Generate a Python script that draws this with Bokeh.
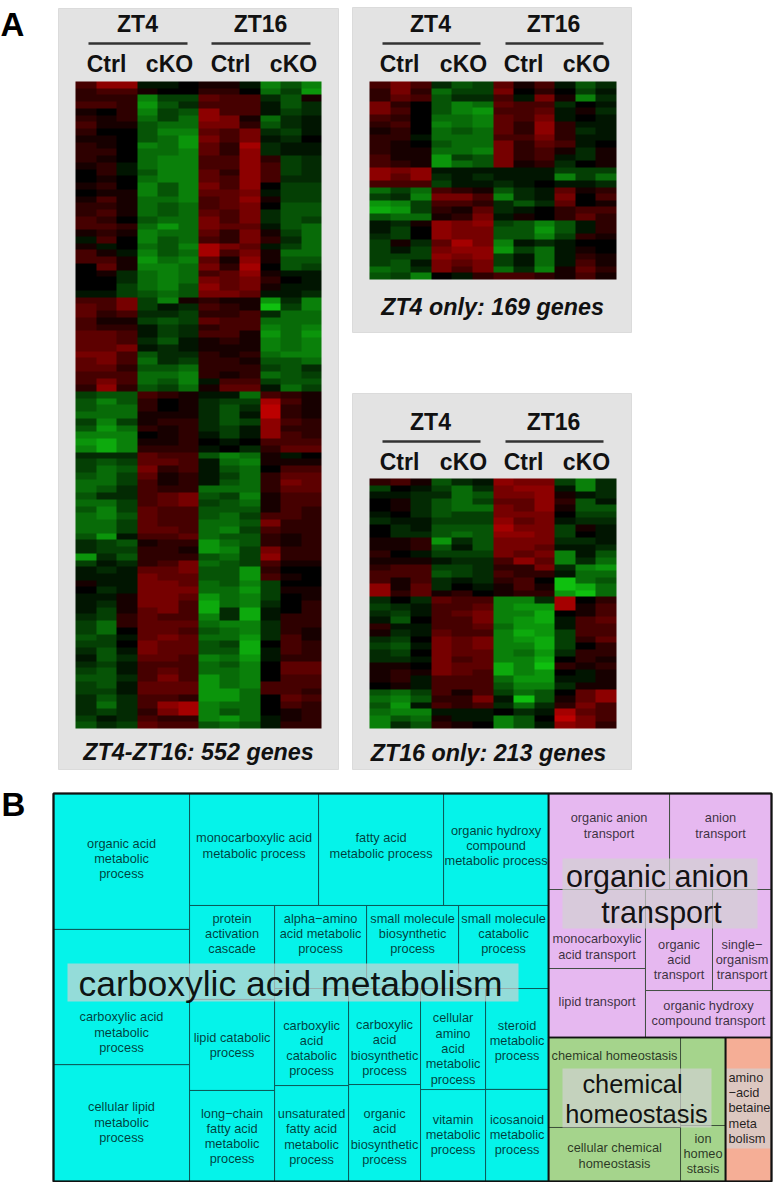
from bokeh.plotting import figure
from bokeh.models import Range1d, LinearColorMapper
from bokeh.embed import file_html
from bokeh.resources import INLINE
from bokeh.core.properties import value
import numpy as np

# ---------- data: expression scores (green < 0 < red) ----------
heat_all = [
[3,6,6,-1,-1,0,1,1,-1,-6,-4,-6],[2,3,3,1,0,0,2,2,0,-5,-3,-7],[2,2,2,-6,-3,-3,4,3,3,-2,-4,1],[3,3,2,-7,-4,-2,3,3,3,-1,-4,-2],
[1,0,2,-6,-3,-4,6,3,3,-1,-3,-2],[2,1,2,-5,-3,-5,6,5,1,-5,-2,-1],[3,1,1,-4,-5,-5,5,5,2,-4,-2,-1],[2,0,0,-4,-6,-6,4,3,5,-2,-3,-1],
[1,1,0,-4,-5,-7,5,3,5,-1,-2,0],[2,1,0,-6,-5,-7,4,2,7,-2,-1,-1],[2,2,0,-5,-5,-6,4,2,6,-2,-1,-1],[2,1,0,-5,-6,-6,3,3,6,2,-3,-2],
[1,2,-1,-5,-6,-6,3,3,6,3,-3,-2],[0,2,-1,-4,-6,-6,4,2,6,3,-3,-2],[0,1,0,-5,-6,-6,4,3,6,3,-2,-2],[1,2,0,-6,-4,-6,5,3,6,0,-3,-3],
[0,1,1,-6,-4,-6,4,4,5,-1,-3,-3],[1,3,1,-5,-5,-6,3,4,6,1,-3,-3],[2,2,1,-5,-4,-5,3,4,5,0,-4,-4],[2,3,1,-5,-4,-5,4,3,5,-2,-4,-4],
[3,2,0,-4,-5,-5,5,3,5,-2,-4,-3],[3,3,2,-5,-7,-5,5,4,4,-1,-4,-5],[1,2,1,-6,-5,-5,4,2,5,1,-3,-5],[-1,3,0,-6,-4,-5,3,2,5,2,-2,-5],
[1,-1,0,-5,-4,-6,7,5,4,-1,-3,-5],[3,1,-1,-6,-4,-5,7,3,5,1,-5,-5],[3,3,1,-7,-5,-6,4,1,6,1,-4,-4],[0,4,1,-6,-6,-5,5,2,7,0,-4,-3],
[0,1,-2,-5,-6,-5,3,4,6,1,-1,-1],[0,0,-2,-5,-6,-5,5,4,5,2,0,-1],[0,0,-3,-5,-6,-4,6,4,5,1,-1,-1],[-1,-1,-3,-4,-5,-4,5,5,4,-1,-1,-2],
[3,3,5,-3,-6,1,2,1,1,-7,-2,-6],[4,3,5,-3,-1,-2,3,2,1,-9,-3,-6],[4,2,3,-2,-2,-3,2,2,3,-2,-5,-5],[3,1,1,-3,-4,-3,4,3,3,-5,-5,-5],
[3,2,2,-1,-3,-2,2,3,3,-6,-5,-6],[4,4,3,-1,-3,-2,3,3,1,-7,-5,-7],[4,4,3,-2,-4,-1,1,2,1,-6,-5,-6],[4,4,5,-1,-2,-1,1,1,1,-6,-5,-6],
[5,5,3,-4,-2,-2,2,1,2,-5,-6,-6],[4,5,3,-5,-2,-3,2,2,1,-4,-4,-5],[4,4,2,-4,-4,-5,2,2,2,-3,-4,-2],[3,3,3,-5,-5,-6,2,1,2,-5,-4,-3],
[3,5,3,-5,-4,-6,-1,3,3,-3,-4,-4],[2,6,2,-4,-3,-5,1,4,4,-1,-5,-3],
[-3,-4,-4,3,2,1,-1,-1,-5,3,2,1],[-4,-6,-4,2,0,1,-2,-3,-3,7,3,1],[-4,-5,-5,2,0,1,-2,-4,-2,8,2,1],[-5,-5,-5,1,1,1,-2,-4,-1,8,2,1],
[-3,-6,-3,1,2,2,-2,-4,-3,6,3,2],[-4,-7,-5,2,1,2,-2,-3,-1,6,2,2],[-6,-6,-6,0,1,2,-1,-3,-1,6,3,2],[-7,-8,-6,1,1,2,0,-1,0,3,3,3],
[-6,-8,-6,2,2,2,-1,0,-2,2,4,4],[-2,-2,-2,4,3,3,-4,-6,-5,1,-1,0],[-3,-4,-3,4,4,3,-1,-5,-6,1,1,1],[-3,-5,-4,5,2,3,-1,-4,-5,0,3,3],
[-4,-5,-3,4,1,2,-1,-3,-5,2,4,4],[-5,-5,-3,3,1,2,-1,-4,-5,2,5,4],[-5,-4,-2,3,2,2,-5,-5,-5,2,4,4],[-4,-2,-2,3,4,5,-4,-3,-6,1,3,3],
[-5,-5,-3,3,4,5,-3,-4,-5,1,3,3],[-4,-6,-3,4,3,3,-4,-4,-4,1,3,2],[-5,-6,-4,4,3,3,-4,-5,-3,3,3,2],[-5,-5,-3,4,3,3,-5,-5,-4,5,2,2],
[-5,-5,-3,4,4,3,-5,-6,-3,3,2,2],[-4,-7,-1,3,3,4,-5,-4,-4,2,1,2],[-2,-3,-4,1,2,2,-7,-5,-4,2,1,2],[-2,-3,-3,2,2,1,-7,-6,-3,5,2,2],
[-7,-2,-4,2,2,2,-4,-5,-3,6,2,2],[-3,-1,-2,2,3,5,-5,-4,-3,3,1,1],[-1,-2,-1,4,4,5,-4,-4,-7,2,0,0],[-1,-1,-1,5,4,4,-4,-4,-7,3,1,0],
[1,-1,-1,5,5,4,-5,-4,-6,-3,0,0],[0,-2,-1,5,5,5,-5,-5,-7,-3,1,1],[-1,-1,1,5,5,4,-7,-5,-6,-3,0,1],[-1,-2,1,5,5,3,-8,-5,-6,-2,0,2],
[-1,-3,1,4,5,3,-8,-2,-8,-1,0,2],[-2,-3,2,4,3,3,-6,-2,-8,-1,2,2],[-3,-5,2,4,4,4,-5,-6,-6,-2,2,2],[-3,-5,0,4,4,3,-4,-5,-6,-2,2,1],
[-4,-3,-1,4,5,4,-5,-5,-7,-2,3,1],[-3,-3,0,5,4,4,-4,-3,-8,0,3,2],[-2,-4,-1,5,4,4,-4,-4,-8,-1,3,2],[-1,-4,-2,4,4,3,-6,-5,-7,-1,2,2],
[-2,-3,-1,3,3,3,-5,-4,-6,0,4,4],[-3,-4,-1,3,4,3,-5,-5,-6,0,4,4],[-4,-4,-2,3,5,3,-7,-5,-6,0,3,3],[-3,-4,-1,4,4,4,-7,-5,-6,3,3,3],
[-3,-3,-1,4,4,4,-7,-7,-5,3,3,2],[-2,-4,-2,3,3,2,-7,-7,-5,0,4,3],[-2,-5,-2,3,6,7,-6,-5,-5,0,3,2],[-2,-3,-2,2,5,7,-6,-4,-5,0,1,2],
[-3,-1,-2,3,2,2,-6,-7,-5,-1,1,2],[-4,-2,-3,4,3,3,-4,-5,-4,-1,2,2],
]
heat_zt4 = [
[3,5,3,-2,-4,-3,4,1,3,-1,-4,-2],[2,5,2,-5,-3,-3,5,0,2,0,-3,-1],[2,4,3,-4,-2,-2,3,-1,5,1,-6,-2],[5,2,0,-4,-6,-5,4,3,3,-2,0,-1],
[5,3,0,-4,-6,-7,3,3,4,-1,1,-2],[3,2,0,-5,-5,-6,4,3,5,-1,0,-1],[2,3,0,-6,-5,-6,4,2,6,2,-1,-1],[1,2,0,-5,-4,-5,4,2,6,2,-2,-1],
[2,2,-1,-5,-5,-5,3,3,5,2,-1,-1],[2,1,0,-4,-5,-5,5,2,4,3,-1,0],[2,1,1,-5,-5,-6,5,2,3,1,-2,1],[3,1,1,-7,-3,-4,5,2,3,-1,-2,1],
[3,2,1,-7,-5,-4,5,1,2,-2,0,1],[6,5,6,-1,-1,-1,-1,-1,-1,-3,-3,-3],[6,4,6,-2,-1,-2,-1,-1,-1,-6,-3,-5],[3,3,3,-3,-1,-1,-2,-1,0,-1,-1,-2],
[-5,-3,-5,3,2,1,-4,-2,-1,4,1,2],[-3,-2,-6,5,5,3,-6,-2,-1,5,0,3],[-7,-6,-3,3,3,2,-2,-4,-2,4,0,1],[-8,-7,-3,2,1,4,-2,-1,0,2,3,3],
[-4,-5,-5,1,2,5,-1,1,0,2,4,2],[-1,-2,1,6,5,6,-3,-4,-6,-4,-1,2],[-1,-3,0,6,5,5,-4,-4,-7,-4,-1,2],[-2,-3,0,6,5,5,-4,-4,-6,-3,2,1],
[-3,1,-2,4,7,5,-6,-1,-2,-1,0,0],[-3,-1,-3,5,6,6,-7,-3,-5,-1,1,0],[-3,-3,-3,6,5,6,-3,-1,-5,-1,2,1],[-3,-4,-1,5,4,5,-3,-1,-5,-1,3,1],
[-5,-4,-2,5,3,5,-5,-2,-6,1,4,2],[-4,-3,-6,0,-1,2,3,3,2,1,3,1],
]
heat_zt16 = [
[2,3,1,-4,-2,-1,6,5,5,-3,-6,-2],[-3,0,-1,-3,-5,-2,5,6,6,-1,-6,-2],[-1,-1,-2,-2,-5,-4,5,5,6,1,-1,-2],[0,1,-2,-4,-5,-3,4,4,6,2,-4,-1],
[0,1,-2,-4,-5,-5,5,4,6,1,-4,-4],[-1,0,-2,-4,-3,-3,5,5,5,0,-3,-3],[-2,-1,-1,-3,-3,-3,6,4,5,-1,-2,-2],[0,-2,-1,-4,-4,-4,7,5,5,-3,1,-1],
[0,-2,-2,-4,-5,-4,6,6,5,-3,0,-1],[1,1,2,-7,-2,-4,5,5,5,-2,-2,-1],[1,1,2,-4,-1,-4,5,5,4,-1,-1,-2],[2,0,-1,-3,-3,-3,5,4,5,-6,-1,-4],
[1,1,1,-1,-2,-2,3,6,4,-6,-2,-5],[2,3,3,-3,-3,-2,2,2,5,-2,-6,-7],[3,3,3,-4,-3,-2,3,2,2,-1,-5,-5],[3,1,3,-2,-1,-2,2,3,0,-9,-5,-4],
[6,1,4,-2,0,-1,1,3,1,-9,-8,-5],[6,2,4,1,2,0,1,2,2,-7,-9,-5],
[-2,0,-2,4,3,3,-6,-6,-2,7,0,2],[-3,-2,-1,3,3,4,-6,-7,-7,7,1,3],[-2,-3,-1,3,4,5,-6,-6,-8,0,1,3],[-1,-4,0,3,3,5,-6,-7,-8,-1,3,4],
[2,-1,-1,3,3,4,-5,-7,-7,-1,3,3],[1,-2,-1,4,3,3,-6,-8,-7,-3,3,3],[-2,-3,0,5,4,5,-6,-7,-8,-3,2,4],[-3,-4,-1,5,4,5,-6,-6,-8,-3,0,2],
[-2,-3,0,5,4,4,-6,-5,-7,-2,2,2],[-2,-2,-1,5,3,4,-6,-6,-8,0,2,1],[1,1,0,5,4,4,-8,-6,-9,2,1,2],[1,2,1,5,4,3,-8,-6,-7,0,-1,1],
[1,2,-1,3,3,3,-5,-7,-7,-1,-1,1],[0,1,-1,3,3,3,-4,-6,-6,-2,1,1],[-4,-5,-3,3,1,3,-3,-5,-4,0,4,6],[-5,-6,-4,2,2,5,-1,-9,-4,1,4,6],
[-4,-7,-1,3,2,3,-2,-5,-2,2,5,3],[-5,-6,-6,-1,-1,-1,0,-2,-1,7,4,3],[-6,-4,-5,1,-1,-1,-6,-4,0,8,5,3],[-6,-2,-4,2,1,0,-6,-4,-1,6,5,2],
]
time_labels = ["ZT4", "ZT16"]
group_labels = ["Ctrl", "cKO", "Ctrl", "cKO"]
captions = ["ZT4-ZT16: 552 genes", "ZT4 only: 169 genes", "ZT16 only: 213 genes"]

# ---------- data: treemap terms and their scores ----------
term_lines = [
 ["organic acid","metabolic","process"], ["carboxylic acid","metabolic","process"], ["cellular lipid","metabolic","process"],
 ["monocarboxylic acid","metabolic process"], ["fatty acid","metabolic process"], ["organic hydroxy","compound","metabolic process"],
 ["protein","activation","cascade"], ["lipid catabolic","process"], ["long\u2212chain","fatty acid","metabolic","process"],
 ["alpha\u2212amino","acid metabolic","process"], ["small molecule","biosynthetic","process"], ["small molecule","catabolic","process"],
 ["carboxylic","acid","catabolic","process"], ["unsaturated","fatty acid","metabolic","process"],
 ["carboxylic","acid","biosynthetic","process"], ["organic","acid","biosynthetic","process"],
 ["cellular","amino","acid","metabolic","process"], ["vitamin","metabolic","process"],
 ["steroid","metabolic","process"], ["icosanoid","metabolic","process"],
 ["organic anion","transport"], ["anion","transport"], ["monocarboxylic","acid transport"], ["lipid transport"],
 ["organic","acid","transport"], ["single\u2212","organism","transport"], ["organic hydroxy","compound transport"],
 ["chemical homeostasis"], ["cellular chemical","homeostasis"], [], ["ion","homeo","stasis"], [],
]
term_scores = [185,184,159, 144.5,140,117.6, 79.9,77.4,77.4, 76.4,76.4,74.7, 71.8,71.0, 69.1,69.8, 65.7,59.8, 63.6,58.0,
               116.2,97.9,76.6,66.9,67.7,59.6,59.2, 118.8,71.3,39.6,25.2,66.2]
label_dy = [-3,35,-1, -4,-4,-4, -19,0,0, -13.5,-13.5,-13.5, 11,3, 11,3.5, 9.5,-1, 1.5,-1,
            -16,-16,17.5,-1.5,19.5,19.5,-1, -27,1,0,0,0]
# tree of slices: "h" splits side by side, "v" stacks; integers are indices into the term lists
cyan_tree = ("h", [("v",[0,1,2]),
                   ("v",[("h",[3,4,5]),
                         ("h",[("v",[6,7,8]),
                               ("v",[("h",[9,10,11]),
                                     ("h",[("v",[12,13]),("v",[14,15]),("v",[16,17]),("v",[18,19])])])])])])
purple_tree = ("v", [("h",[20,21]), ("h",[("v",[22,23]), ("v",[("h",[24,25]),26])])])
green_tree = ("h", [("v",[27,28]), ("v",[29,30])])
orange_tree = ("h", [31])
cluster_names = ["carboxylic acid metabolism", "organic anion\ntransport", "chemical\nhomeostasis"]
small_cluster_lines = ["amino", "\u2212acid", "betaine", "meta", "bolism"]

# ---------- page ----------
W, H = 773, 1182
FONT = value("Liberation Sans")
def Y(py): return H - py

p = figure(width=W, height=H, x_range=Range1d(0, W), y_range=Range1d(0, H), output_backend="svg",
           toolbar_location=None, min_border=0, outline_line_color=None, background_fill_color="white",
           border_fill_color="white", styles={"position": "absolute", "left": "0", "top": "0"})
p.xaxis.visible = False; p.yaxis.visible = False; p.grid.visible = False

ramp = [(int(15*(1-i/127)), int(192*(1-i/127)), int(15*(1-i/127))) for i in range(128)] + \
       [(int(212*i/127), 0, 0) for i in range(128)]
mapper = LinearColorMapper(palette=["#%02x%02x%02x" % c for c in ramp], low=-9, high=9)

panels = [
 dict(box=(58,8,338,769),  heat=heat_all,  hx=(75,321),  hy=(81,728),  top=23, rule=43, sub=63,
      centers=(137,260), rules=((88,187),(211,310)), subs=(106,169,230,293), cap=(198,751)),
 dict(box=(352,7,631,332), heat=heat_zt4,  hx=(369,616), hy=(81,279),  top=23, rule=43, sub=63,
      centers=(430,553), rules=((382,480),(505,603)), subs=(399,463,523,586), cap=(492,306)),
 dict(box=(352,393,631,769), heat=heat_zt16, hx=(369,616), hy=(478,728), top=421, rule=441, sub=461,
      centers=(430,553), rules=((382,480),(505,603)), subs=(399,463,523,586), cap=(488,752)),
]
for i, d in enumerate(panels):
    l, t, r, b = d["box"]
    p.quad(left=[l], right=[r], top=[Y(t)], bottom=[Y(b)], fill_color="#E3E3E3", line_color="#DBDBDB", line_width=1)
    arr = np.array(d["heat"], dtype=float)[::-1]
    p.image(image=[arr], x=d["hx"][0], y=Y(d["hy"][1]), dw=d["hx"][1]-d["hx"][0], dh=d["hy"][1]-d["hy"][0],
            color_mapper=mapper)
    p.text(x=list(d["centers"]), y=[Y(d["top"])]*2, text=time_labels, text_font=FONT, text_font_size="23px",
           text_font_style="bold", text_align="center", text_baseline="middle", text_color="#111111")
    for a, c in d["rules"]:
        p.line([a, c], [Y(d["rule"])]*2, line_color="#333333", line_width=2.5)
    p.text(x=list(d["subs"]), y=[Y(d["sub"])]*4, text=group_labels, text_font=FONT, text_font_size="23px",
           text_font_style="bold", text_align="center", text_baseline="middle", text_color="#111111")
    p.text(x=[d["cap"][0]], y=[Y(d["cap"][1])], text=[captions[i]], text_font=FONT, text_font_size="23.3px",
           text_font_style="bold italic", text_align="center", text_baseline="middle", text_color="#111111")

p.text(x=[0, 1], y=[Y(24), Y(804)], text=["A", "B"], text_font=FONT, text_font_size="33px", text_font_style="bold",
       text_align="left", text_baseline="middle", text_color="black")

# ---------- treemap layout from the scores ----------
def total(node):
    if isinstance(node, int): return term_scores[node]
    return sum(total(c) for c in node[1])
def layout(node, l, t, r, b, out):
    if isinstance(node, int):
        out[node] = (l, t, r, b); return
    kind, kids = node
    s = sum(total(k) for k in kids); pos = l if kind == "h" else t
    for k in kids:
        f = total(k) / s
        if kind == "h":
            layout(k, pos, t, pos + f*(r-l), b, out); pos += f*(r-l)
        else:
            layout(k, l, pos, r, pos + f*(b-t), out); pos += f*(b-t)

TL, TT, TR, TB = 53, 793, 771, 1181
cyan_sum, purple_sum, green_sum, orange_sum = total(cyan_tree), total(purple_tree), total(green_tree), total(orange_tree)
cx = TL + (TR-TL)*cyan_sum/(cyan_sum+purple_sum+green_sum+orange_sum)
py = TT + (TB-TT)*purple_sum/(purple_sum+green_sum+orange_sum)
gx = cx + (TR-cx)*green_sum/(green_sum+orange_sum)
groups = [(cyan_tree,(TL,TT,cx,TB),"#05F3EA"), (purple_tree,(cx,TT,TR,py),"#E6B8F0"),
          (green_tree,(cx,py,gx,TB),"#A5D48C"), (orange_tree,(gx,py,TR,TB),"#F5AE96")]
cells = {}
for tree, rect, color in groups:
    out = {}
    layout(tree, *rect, out)
    cells.update(out)
    idx = list(out)
    p.quad(left=[out[k][0] for k in idx], right=[out[k][2] for k in idx],
           top=[Y(out[k][1]) for k in idx], bottom=[Y(out[k][3]) for k in idx],
           fill_color=color, line_color="#0a4a4a" if color == "#05F3EA" else "#334433", line_width=1, line_alpha=0.85)

LH = 15.3
tx, ty, tt = [], [], []
for k, lines in enumerate(term_lines):
    if not lines: continue
    l, t, r, b = cells[k]
    cy = (t+b)/2 + label_dy[k]
    for j, s in enumerate(lines):
        tx.append((l+r)/2); ty.append(Y(cy + (j-(len(lines)-1)/2)*LH)); tt.append(s)
p.text(x=tx, y=ty, text=tt, text_font=FONT, text_font_size="12.8px", text_align="center", text_baseline="middle",
       text_color="black", text_alpha=0.75)

# cluster labels on translucent bands
def band(l, t, r, b):
    p.quad(left=[l], right=[r], top=[Y(t)], bottom=[Y(b)], fill_color="#D2D2D2", fill_alpha=0.7, line_color=None)
band(67, 963, 518, 1001); band(562, 858, 757, 928); band(562, 1068, 711, 1127); band(725, 1068, 771, 1148)

big = [(290, 983, cluster_names[0], 35.5), (657, 875, cluster_names[1].split("\n")[0], 30.5),
       (661, 911, cluster_names[1].split("\n")[1], 30.5), (632, 1083, cluster_names[2].split("\n")[0], 25.4),
       (636, 1113, cluster_names[2].split("\n")[1], 25.4)]
for x, y, s, size in big:
    p.text(x=[x], y=[Y(y)], text=[s], text_font=FONT, text_font_size=f"{size}px", text_align="center",
           text_baseline="middle", text_color="black", text_alpha=0.92)
p.text(x=[728]*5, y=[Y(v) for v in (1077, 1092, 1107, 1123, 1138)], text=small_cluster_lines, text_font=FONT,
       text_font_size="12.8px", text_align="left", text_baseline="middle", text_color="black", text_alpha=0.85)

# group and outer borders
for _, (l, t, r, b), _c in groups:
    p.quad(left=[l], right=[r], top=[Y(t)], bottom=[Y(b)], fill_color=None, line_color="#111111", line_width=1.6)
p.quad(left=[TL], right=[TR], top=[Y(TT)], bottom=[Y(TB)], fill_color=None, line_color="#111111", line_width=2)

open("out.html", "w").write(file_html(p, INLINE))
